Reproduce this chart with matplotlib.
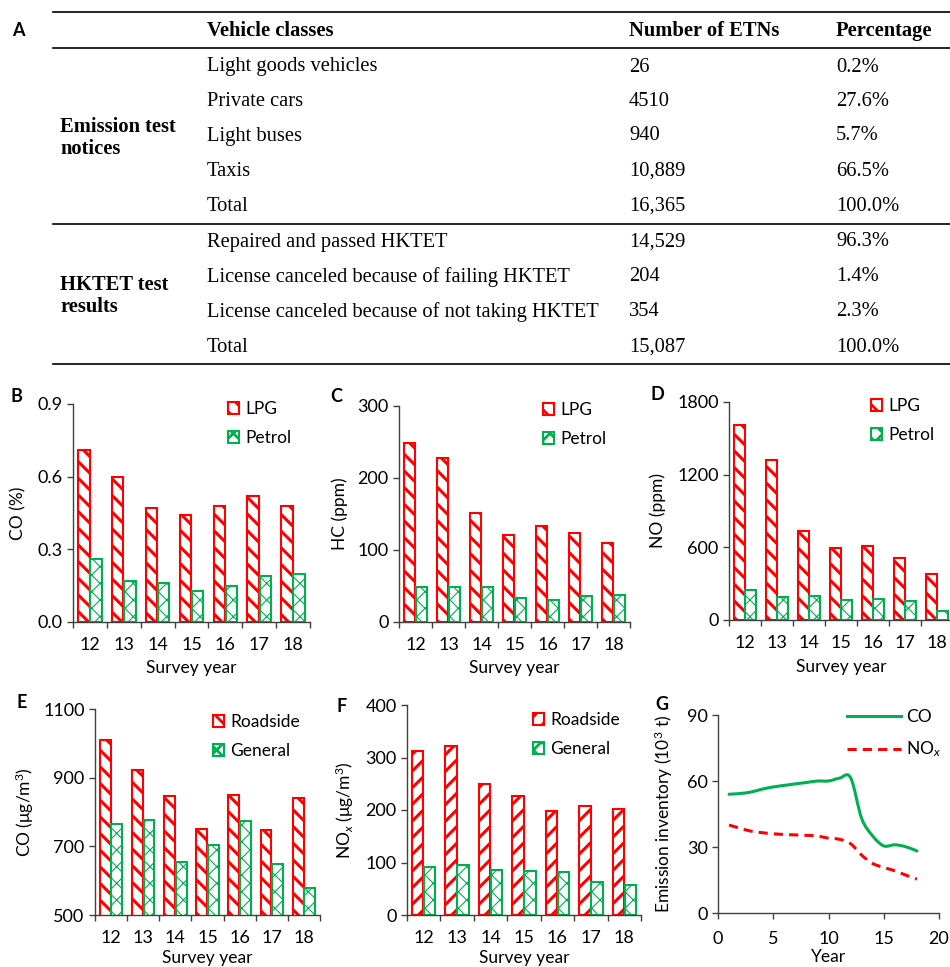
import numpy as np
import matplotlib
matplotlib.use('Agg')
import matplotlib.pyplot as plt
from matplotlib.lines import Line2D
from matplotlib.path import Path
from matplotlib.patches import PathPatch

# ---------------------------------------------------------------------------
# Data
# ---------------------------------------------------------------------------
# Panel A table
table_header = ['Vehicle classes', 'Number of ETNs', 'Percentage']
etn_group = 'Emission test\nnotices'
etn_classes = ['Light goods vehicles', 'Private cars', 'Light buses', 'Taxis', 'Total']
etn_counts = ['26', '4510', '940', '10,889', '16,365']
etn_pct = ['0.2%', '27.6%', '5.7%', '66.5%', '100.0%']
hktet_group = 'HKTET test\nresults'
hktet_classes = ['Repaired and passed HKTET',
                 'License canceled because of failing HKTET',
                 'License canceled because of not taking HKTET',
                 'Total']
hktet_counts = ['14,529', '204', '354', '15,087']
hktet_pct = ['96.3%', '1.4%', '2.3%', '100.0%']

# Panels B-F: survey years
survey_years = ['12', '13', '14', '15', '16', '17', '18']
co_lpg = [0.71, 0.60, 0.47, 0.44, 0.48, 0.52, 0.48]
co_petrol = [0.26, 0.17, 0.16, 0.13, 0.15, 0.19, 0.20]
hc_lpg = [249, 228, 151, 121, 134, 123, 110]
hc_petrol = [48, 48, 48, 34, 31, 36, 37]
no_lpg = [1607, 1321, 735, 595, 608, 515, 383]
no_petrol = [248, 187, 198, 168, 173, 154, 77]
co_roadside = [1010, 923, 847, 750, 850, 747, 841]
co_general = [764, 777, 653, 703, 775, 650, 579]
nox_roadside = [312, 321, 250, 227, 199, 208, 202]
nox_general = [91, 95, 85, 83, 81, 62, 57]

# Panel G: emission inventory
inv_year = [1, 2, 3, 4, 5, 6, 7, 8, 9, 10, 11, 12, 13, 14, 15, 16, 17, 18]
inv_co = [54.0, 54.3, 55.0, 56.3, 57.3, 58.0, 58.7, 59.3, 60.0, 60.0, 61.3, 61.5,
          43.0, 35.0, 30.5, 31.0, 30.1, 28.2]
inv_nox = [40.0, 38.5, 37.2, 36.5, 36.0, 35.7, 35.5, 35.3, 35.0, 34.0, 33.5, 31.5,
           26.3, 22.5, 20.7, 19.2, 17.2, 15.4]

RED = '#FF0000'
GREEN = '#00B050'
W, H = 950, 967

plt.rcParams['font.family'] = ['Lato', 'DejaVu Sans']
plt.rcParams['mathtext.fontset'] = 'custom'
plt.rcParams['mathtext.rm'] = 'Lato'
plt.rcParams['mathtext.it'] = 'Lato:italic'
plt.rcParams['mathtext.bf'] = 'Lato:bold'
plt.rcParams['hatch.linewidth'] = 2.0

fig = plt.figure(figsize=(W / 100, H / 100), dpi=100)


def fx(x):
    return x / W


def fy(y):
    return 1 - y / H


def px_axes(l, t, r, b):
    return fig.add_axes([fx(l), fy(b), (r - l) / W, (b - t) / H])


def hatch_lw(container, lw):
    for p in container:
        if hasattr(p, 'set_hatch_linewidth'):
            p.set_hatch_linewidth(lw)


# ---------------------------------------------------------------------------
# Panel A: table
# ---------------------------------------------------------------------------
SERIF = 'Liberation Serif'
TFS = 14.8
fig.text(fx(12), fy(31), 'A', fontsize=13, fontweight='bold', va='center')
for yl in [12, 48, 224, 364]:
    fig.add_artist(Line2D([fx(53), fx(950)], [fy(yl), fy(yl)], color='black', lw=1.2))

col_x = [207, 629, 836]
for cx, s in zip(col_x, table_header):
    fig.text(fx(cx), fy(31), s, family=SERIF, fontsize=TFS, fontweight='bold', va='center')

etn_rows = [67, 101, 136, 171, 206]
for yy, c, n, p in zip(etn_rows, etn_classes, etn_counts, etn_pct):
    for cx, s in zip(col_x, [c, n, p]):
        fig.text(fx(cx), fy(yy), s, family=SERIF, fontsize=TFS, va='center')
fig.text(fx(60), fy(138), etn_group, family=SERIF, fontsize=TFS, fontweight='bold',
         va='center', linespacing=1.1)

hktet_rows = [242, 277, 312, 347]
for yy, c, n, p in zip(hktet_rows, hktet_classes, hktet_counts, hktet_pct):
    for cx, s in zip(col_x, [c, n, p]):
        fig.text(fx(cx), fy(yy), s, family=SERIF, fontsize=TFS, va='center')
fig.text(fx(60), fy(296), hktet_group, family=SERIF, fontsize=TFS, fontweight='bold',
         va='center', linespacing=1.1)

# ---------------------------------------------------------------------------
# Common axis styling
# ---------------------------------------------------------------------------
FS = 12.5
TICKFS = 13
SPINE = '#404040'


def style_axes(ax):
    for s in ['top', 'right']:
        ax.spines[s].set_visible(False)
    for s in ['left', 'bottom']:
        ax.spines[s].set_color(SPINE)
        ax.spines[s].set_linewidth(1.0)
    ax.tick_params(axis='both', which='major', direction='out', length=4,
                   width=1.0, color=SPINE, labelsize=TICKFS)


def bar_panel(rect, a, b, labels, ylim, yticks, ylabel, hatch_a, ylab_x, xlab_y,
              leg_xy, letter, letter_xy):
    ax = px_axes(*rect)
    x = np.arange(len(survey_years))
    with plt.rc_context({'hatch.linewidth': 2.2}):
        bars_a = ax.bar(x - 0.18, a, 0.34, facecolor='white', edgecolor=RED,
                        hatch=hatch_a, linewidth=1.5, label=labels[0])
        hatch_lw(bars_a, 2.2)
    with plt.rc_context({'hatch.linewidth': 0.8}):
        bars_b = ax.bar(x + 0.18, b, 0.34, facecolor='white', edgecolor=GREEN,
                        hatch='xx', linewidth=1.5, label=labels[1])
        hatch_lw(bars_b, 0.8)
    style_axes(ax)
    ax.set_xlim(-0.5, len(survey_years) - 0.5)
    ax.set_ylim(*ylim)
    ax.set_yticks(yticks)
    ax.set_xticks(np.arange(len(survey_years) + 1) - 0.5)
    ax.set_xticklabels([])
    ax.set_xticks(x, minor=True)
    ax.set_xticklabels(survey_years, minor=True)
    ax.tick_params(axis='x', which='minor', length=0, pad=11, labelsize=TICKFS)
    if isinstance(yticks[1], float):
        ax.set_yticklabels([f'{v:.1f}' for v in yticks])
    ax.set_ylabel(ylabel, fontsize=FS)
    ax.yaxis.label.set_va('center')
    ax.yaxis.set_label_coords(ylab_x, 0.5)
    ax.set_xlabel('Survey year', fontsize=FS)
    ax.xaxis.label.set_va('center')
    ax.xaxis.set_label_coords(0.5, xlab_y)
    ax.legend(loc='upper left', bbox_to_anchor=(fx(leg_xy[0]), fy(leg_xy[1])),
              bbox_transform=fig.transFigure, frameon=False, fontsize=FS,
              handlelength=0.65, handleheight=0.65, handletextpad=0.35,
              labelspacing=0.75, borderpad=0, borderaxespad=0)
    fig.text(fx(letter_xy[0]), fy(letter_xy[1]), letter, fontsize=13,
             fontweight='bold', va='center')
    return ax


bar_panel((73, 404, 310, 622), co_lpg, co_petrol, ['LPG', 'Petrol'], (0, 0.9),
          [0.0, 0.3, 0.6, 0.9], 'CO (%)', '\\\\', -0.232, -0.211,
          (228, 401), 'B', (10, 396))
bar_panel((399, 406, 630, 622), hc_lpg, hc_petrol, ['LPG', 'Petrol'], (0, 300),
          [0, 100, 200, 300], 'HC (ppm)', '\\\\', -0.255, -0.214,
          (543, 402), 'C', (330, 396))
bar_panel((729, 402, 953, 620), no_lpg, no_petrol, ['LPG', 'Petrol'], (0, 1800),
          [0, 600, 1200, 1800], 'NO (ppm)', '\\\\', -0.317, -0.216,
          (871, 398), 'D', (650, 395))
bar_panel((95, 709, 320, 915), co_roadside, co_general, ['Roadside', 'General'],
          (500, 1100), [500, 700, 900, 1100], 'CO (μg/m$^{3}$)', '\\\\', -0.311, -0.208,
          (213, 714), 'E', (17, 703))
bar_panel((407, 705, 641, 915), nox_roadside, nox_general, ['Roadside', 'General'],
          (0, 400), [0, 100, 200, 300, 400], 'NO$_{x}$ (μg/m$^{3}$)', '//', -0.265, -0.205,
          (533, 712), 'F', (336, 706))


# ---------------------------------------------------------------------------
# Panel G: smoothed lines
# ---------------------------------------------------------------------------
def smooth_path(xs, ys):
    pts = np.column_stack([xs, ys]).astype(float)
    verts = [pts[0]]
    codes = [Path.MOVETO]
    n = len(pts)
    for i in range(n - 1):
        p0 = pts[i - 1] if i > 0 else pts[i]
        p1, p2 = pts[i], pts[i + 1]
        p3 = pts[i + 2] if i + 2 < n else pts[i + 1]
        verts += [p1 + (p2 - p0) / 6, p2 - (p3 - p1) / 6, p2]
        codes += [Path.CURVE4] * 3
    return Path(verts, codes)


axg = px_axes(718, 715, 939, 913)
axg.add_patch(PathPatch(smooth_path(inv_year, inv_co), fill=False, edgecolor=GREEN,
                        lw=2.2, capstyle='round', joinstyle='round'))
axg.add_patch(PathPatch(smooth_path(inv_year, inv_nox), fill=False, edgecolor=RED,
                        lw=2.2, linestyle=(0, (3, 2))))
style_axes(axg)
axg.set_xlim(0, 20)
axg.set_ylim(0, 90)
axg.set_xticks([0, 5, 10, 15, 20])
axg.set_yticks([0, 30, 60, 90])
axg.tick_params(axis='x', pad=9)
axg.set_ylabel('Emission inventory (10$^{3}$ t)', fontsize=FS)
axg.yaxis.label.set_va('center')
axg.yaxis.set_label_coords(-0.244, 0.5)
axg.set_xlabel('Year', fontsize=FS)
axg.xaxis.label.set_va('center')
axg.xaxis.set_label_coords(0.5, -0.222)
handles = [Line2D([], [], color=GREEN, lw=2.2),
           Line2D([], [], color=RED, lw=2.2, linestyle=(0, (3, 2)))]
axg.legend(handles, ['CO', 'NO$_{\\mathit{x}}$'], loc='upper left',
           bbox_to_anchor=(fx(847), fy(709)), bbox_transform=fig.transFigure,
           frameon=False, fontsize=FS, handlelength=3.1, handletextpad=0.3,
           labelspacing=0.85, borderpad=0, borderaxespad=0)
fig.text(fx(655), fy(705), 'G', fontsize=13, fontweight='bold', va='center')

fig.savefig('out.png', dpi=100)
